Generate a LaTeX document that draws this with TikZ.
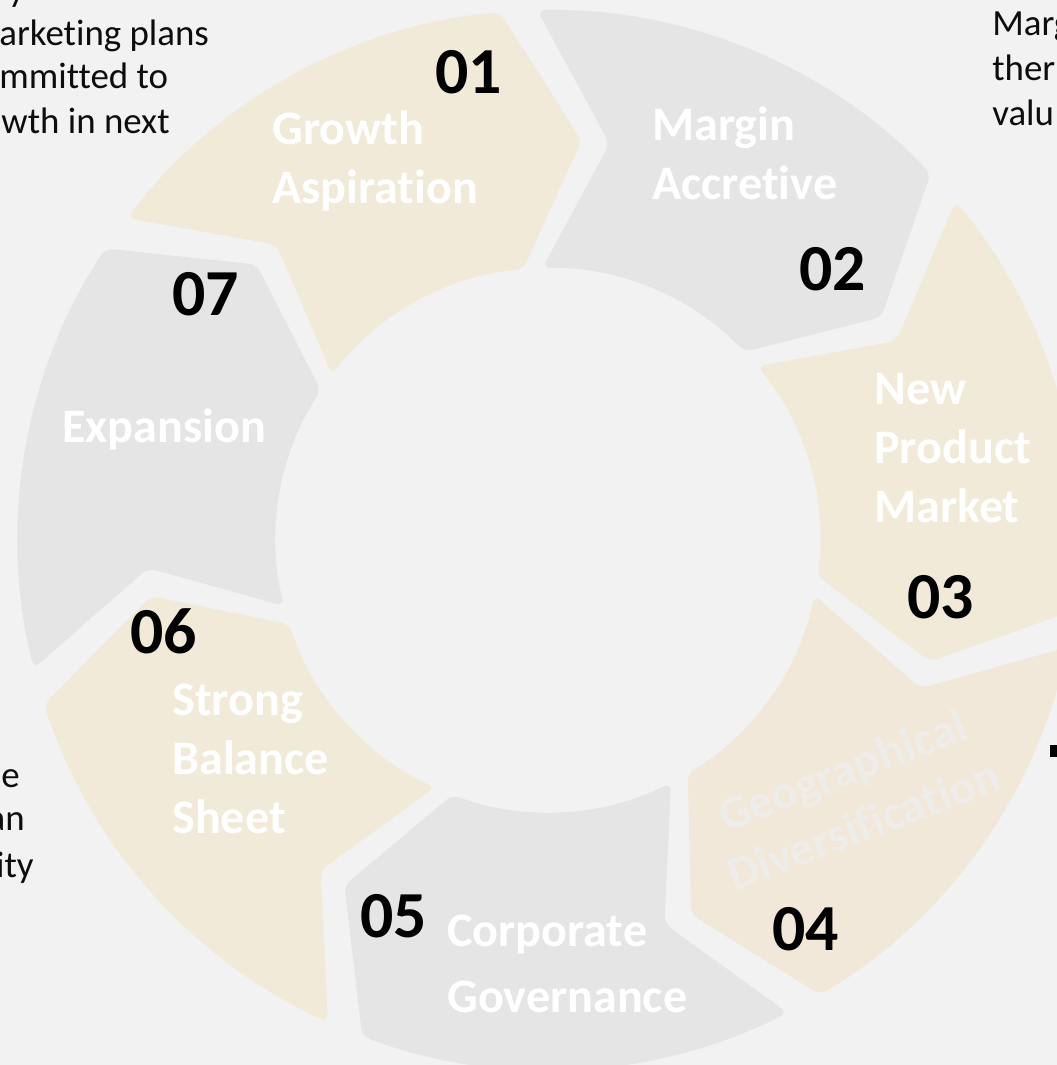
\documentclass[tikz,border=0pt]{standalone}
\usepackage{fontspec}
\setmainfont{Carlito}[Ligatures={NoCommon}]
\usetikzlibrary{positioning}
\definecolor{pagebg}{HTML}{F2F2F2}
\definecolor{segbeige}{HTML}{F2EAD9}
\definecolor{segsand}{HTML}{F1E8DA}
\definecolor{seggray}{HTML}{E5E5E5}
\definecolor{fadetxt}{HTML}{EEEDEA}
\definecolor{inktxt}{HTML}{0D0D0D}

\begin{document}
\begin{tikzpicture}[
  x=0.02cm, y=0.02cm,
  seg/.style={rounded corners=1.6mm},
  steplbl/.style={font=\bfseries\fontsize{27.4}{33.4}\selectfont, text=white, align=left, anchor=base west, inner sep=0pt},
  stepnum/.style={font=\bfseries\fontsize{37.4}{45}\selectfont, text=black, anchor=base west, inner sep=0pt},
  sidetxt/.style={font=\fontsize{21}{25}\selectfont, text=inktxt, anchor=base west, inner sep=0pt}
]
\useasboundingbox (0,0) rectangle (1057,-1065);
\fill[pagebg] (0,0) rectangle (1057,-1065);
\clip (0,0) rectangle (1057,-1065);

% ring of seven arrows, clockwise from the top
\begin{scope}[shift={(548,-540)}]
\foreach \k/\col in {0/segbeige,1/seggray,2/segbeige,3/segsand,4/seggray,5/segbeige,6/seggray} {
  \pgfmathsetmacro\e{95.2-51.43*\k}
  \pgfmathsetmacro\s{\e+47.4}
  \fill[seg, \col] (\s:530) arc[start angle=\s, end angle=\e, radius=530]
    -- (\e-10:401) -- (\e:272) arc[start angle=\e, end angle=\s, radius=272]
    -- (\s-10:401) -- cycle;
}
\end{scope}

% step labels (base = last line)
\node[steplbl] (lbl1) at (272,-203) {Growth\\Aspiration};
\node[steplbl] (lbl2) at (652,-199) {Margin\\Accretive};
\node[steplbl] (lbl3) at (874,-522) {New\\Product\\Market};
\node[steplbl, text=fadetxt, align=center, anchor=center, rotate=21] (lbl4) at (853,-797) {Geographical\\Diversification};
\node[steplbl, font=\bfseries\fontsize{27.4}{37.4}\selectfont] (lbl5) at (447,-1012) {Corporate\\Governance};
\node[steplbl] (lbl6) at (172,-833) {Strong\\Balance\\Sheet};
\node[steplbl] (lbl7) at (62,-442) {Expansion};

% step numbers
\node[stepnum] (num1) at (435,-93) {01};
\node[stepnum] (num2) at (799,-290) {02};
\node[stepnum] (num3) at (907,-618) {03};
\node[stepnum] (num4) at (772,-950) {04};
\node[stepnum] (num5) at (360,-937) {05};
\node[stepnum] (num6) at (130,-653) {06};
\node[stepnum] (num7) at (172,-315) {07};

% cut-off notes at the edges
\node[sidetxt] (notey) at (8,-1) {y};
\node[sidetxt] (notea) at (-1,-45) {arketing plans};
\node[sidetxt] (noteb) at (-1,-88) {mmitted to};
\node[sidetxt] (notec) at (1,-133) {wth in next};
\node[sidetxt] (noted) at (992,-35) {Marg};
\node[sidetxt] (notee) at (992,-80) {ther};
\node[sidetxt] (notef) at (992,-125) {valu};
\node[sidetxt, anchor=base east] (noteg) at (20,-787) {e};
\node[sidetxt, anchor=base east] (noteh) at (25,-830) {an};
\node[sidetxt, anchor=base east] (notei) at (34,-877) {ity};
\fill[black] (1050,-745) rectangle (1057,-757);
\end{tikzpicture}
\end{document}
